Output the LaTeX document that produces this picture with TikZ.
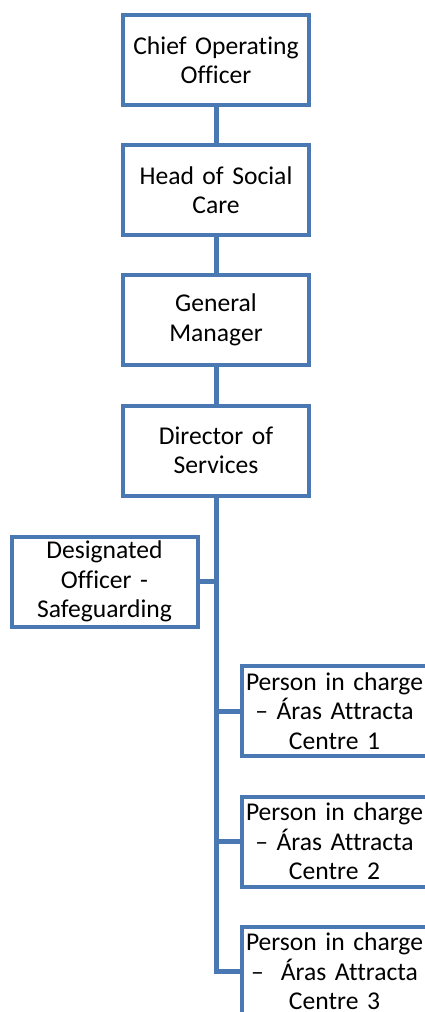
\documentclass[tikz,border=0pt]{standalone}
\usepackage{fontspec}
\setmainfont{Carlito}[Ligatures=NoCommon]
\usepackage{tikz}
\definecolor{orgblue}{HTML}{4A78B2}
\tikzset{
  post/.style={draw=orgblue, line width=4pt, fill=white, minimum width=182pt,
    minimum height=90pt, text width=186pt, inner sep=0pt, align=center,
    font=\fontsize{25.6pt}{29.5pt}\selectfont},
  link/.style={draw=orgblue, line width=5pt}
}
\begin{document}
\begin{tikzpicture}[x=1pt, y=-1pt]
  \useasboundingbox (0,0) rectangle (425,1012);

  \newcommand\Xc{216};

  %% chain of command
  \node[post] (coo) at (\Xc, 60) {Chief Operating\\Officer};
  \node[post] (hsc) at (\Xc, 190) {Head of Social\\Care};
  \node[post] (gm)  at (\Xc, 320) {General\\Manager};
  \node[post] (dos) at (\Xc, 450.5) {Director of\\Services};

  \draw[link] (coo) -- (hsc);
  \draw[link] (hsc) -- (gm);
  \draw[link] (gm) -- (dos);

  %% side posts
  \node[post] (dsg) at (104.5, 581.5) {Designated\\Officer -\\Safeguarding};
  \node[post] (pic1) at (334.5, 711) {Person in charge\\– Áras Attracta\\Centre 1};
  \node[post] (pic2) at (334.5, 841.5) {Person in charge\\– Áras Attracta\\Centre 2};
  \node[post] (pic3) at (334.5, 971.5) {Person in charge\\–\ \ Áras Attracta\\Centre 3};

  \coordinate (trunk) at (\Xc, 973);
  \draw[link] (dos.south) -- ([yshift=2.5pt]trunk); % trunk
  \draw[link] (dsg.east) -- (\Xc, 581.5);
  \draw[link] (\Xc, 711) -- (pic1.west);
  \draw[link] (\Xc, 841.5) -- (pic2.west);
  \draw[link] (\Xc-2.5, 971.5) -- (pic3.west);

\end{tikzpicture}
\end{document}
